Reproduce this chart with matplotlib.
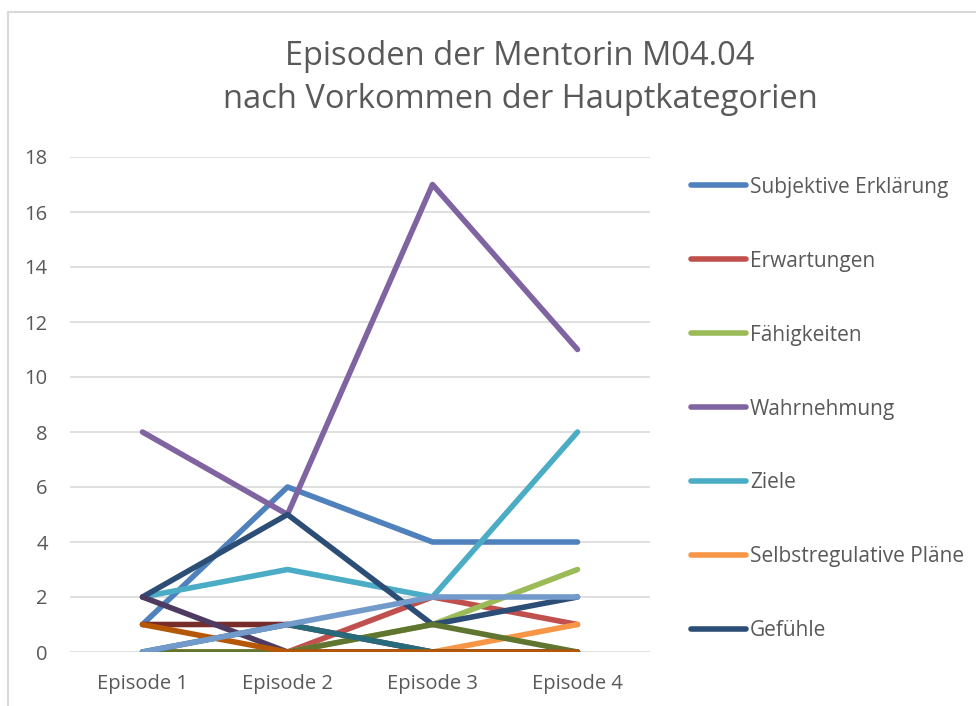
import matplotlib
matplotlib.use('Agg')
import matplotlib.pyplot as plt
from matplotlib.lines import Line2D

plt.rcParams['font.family'] = ['Open Sans', 'DejaVu Sans']

episodes = ['Episode 1', 'Episode 2', 'Episode 3', 'Episode 4']

# series in Excel order (only the first 7 appear in the legend)
names = ['Subjektive Erklärung', 'Erwartungen', 'Fähigkeiten', 'Wahrnehmung',
         'Ziele', 'Selbstregulative Pläne', 'Gefühle',
         'Serie 8', 'Serie 9', 'Serie 10', 'Serie 11', 'Serie 12', 'Serie 13']
values = [
    [1, 6, 4, 4],
    [0, 0, 2, 1],
    [0, 0, 1, 3],
    [8, 5, 17, 11],
    [2, 3, 2, 8],
    [0, 0, 0, 1],
    [2, 5, 1, 2],
    [1, 1, 0, 0],
    [0, 0, 1, 0],
    [2, 0, 0, 0],
    [0, 1, 0, 0],
    [1, 0, 0, 0],
    [0, 1, 2, 2],
]
colors = ['#4F81BD', '#C0504D', '#9BBB59', '#8064A2', '#4BACC6', '#F79646',
          '#2C4D75', '#772C2A', '#5F7530', '#4D3B62', '#276A7C', '#B65708',
          '#729ACA']

fig = plt.figure(figsize=(9.76, 7.06), dpi=100)
# chart border (cut off on the right and bottom)
fig.lines.append(Line2D([8 / 976, 8 / 976, 1], [0, 1 - 12 / 706, 1 - 12 / 706],
                        transform=fig.transFigure, color='#D9D9D9', linewidth=1.5))

ax = fig.add_axes([70 / 976, 1 - 652 / 706, 580 / 976, 495 / 706])

x = list(range(len(episodes)))
handles = []
for name, vals, c in zip(names, values, colors):
    ln, = ax.plot(x, vals, color=c, linewidth=4, solid_capstyle='round',
                  solid_joinstyle='round', label=name)
    handles.append(ln)

ax.set_xlim(-0.5, 3.5)
ax.set_ylim(0, 18)
ax.set_yticks(range(0, 19, 2))
ax.set_xticks(x)
ax.set_xticklabels(episodes)
ax.yaxis.grid(True, color='#D9D9D9', linewidth=1.2)
ax.set_axisbelow(True)
for s in ax.spines.values():
    s.set_visible(False)
ax.tick_params(length=0, labelsize=14.5, labelcolor='#595959')
ax.tick_params(axis='y', pad=16)
ax.tick_params(axis='x', pad=16)

fig.text(520 / 976, 1 - 78 / 706, 'Episoden der Mentorin M04.04\nnach Vorkommen der Hauptkategorien',
         ha='center', va='center', fontsize=23.5, color='#595959', linespacing=1.4)

fig.legend(handles=handles[:7], loc='upper left',
           bbox_to_anchor=(672 / 976, 1 - 158 / 706), frameon=False,
           fontsize=15, labelcolor='#595959', handlelength=2.65,
           handletextpad=0.2, labelspacing=2.54)

fig.savefig('out.png', dpi=100)
